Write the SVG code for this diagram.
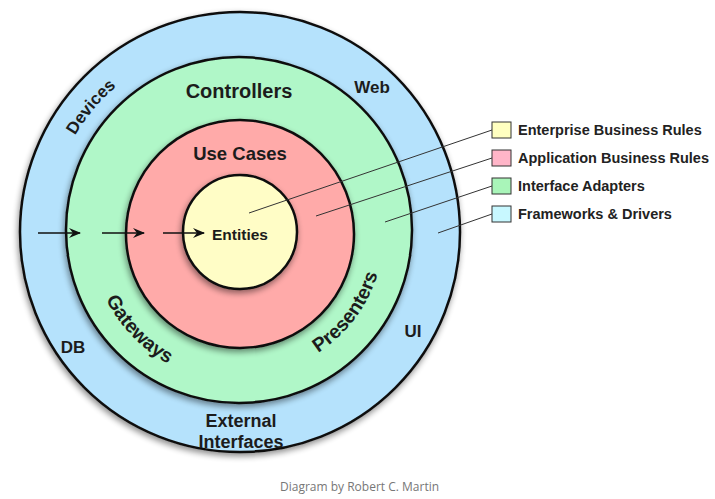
<svg xmlns="http://www.w3.org/2000/svg" xmlns:xlink="http://www.w3.org/1999/xlink" width="715" height="499" viewBox="0 0 715 499">
<style>
.ring{stroke:#111;stroke-width:2.5}
.lbl{font-family:"Liberation Sans",Arial,sans-serif;font-weight:bold;fill:#1c1c1c}
.leg{font-family:"Liberation Sans",Arial,sans-serif;font-weight:bold;font-size:14.5px;fill:#222}
.box{stroke:#333;stroke-width:1}
.lead{stroke:#333;stroke-width:1;fill:none}
.arr{stroke:#111;stroke-width:1.6;fill:none}
.cap{font-family:"Open Sans","Noto Sans",sans-serif;font-size:12px;fill:#777}
</style>
<defs>
<filter id="sh" x="-20%" y="-20%" width="140%" height="140%">
<feGaussianBlur in="SourceAlpha" stdDeviation="3"/>
<feOffset dx="-1" dy="3" result="b"/>
<feComponentTransfer><feFuncA type="linear" slope="0.45"/></feComponentTransfer>
<feMerge><feMergeNode/><feMergeNode in="SourceGraphic"/></feMerge>
</filter>
<marker id="ah" viewBox="0 0 12 10" refX="11" refY="5" markerWidth="12" markerHeight="10" markerUnits="userSpaceOnUse" orient="auto">
<path d="M0,0 L12,5 L0,10 L4,5 Z" fill="#111"/>
</marker>
<path id="pDev" d="M49,232 A191,191 0 0 1 206.8,43.9"/>
<path id="pGate" d="M90.4,242.5 A150,150 0 0 0 224.3,381.2"/>
<path id="pPres" d="M265,373.8 A144,144 0 0 0 383.2,216.9"/>
</defs>
<rect width="715" height="499" fill="#fff"/>
<g id="frameworks-drivers">
<circle class="ring" cx="240" cy="232" r="220" fill="#b5e2fc" filter="url(#sh)"/>
<text class="lbl" font-size="17"><textPath xlink:href="#pDev" href="#pDev" startOffset="50%" text-anchor="middle">Devices</textPath></text>
<text class="lbl" x="372" y="93" font-size="17" text-anchor="middle">Web</text>
<text class="lbl" x="413" y="337" font-size="17" text-anchor="middle">UI</text>
<text class="lbl" x="73" y="353" font-size="17" text-anchor="middle">DB</text>
<text class="lbl" x="241" y="427" font-size="18" text-anchor="middle">External</text>
<text class="lbl" x="241" y="448" font-size="18" text-anchor="middle">Interfaces</text>
</g>
<g id="interface-adapters">
<circle class="ring" cx="239" cy="230" r="173" fill="#b0f7c8" filter="url(#sh)"/>
<text class="lbl" x="239" y="98" font-size="20" text-anchor="middle">Controllers</text>
<text class="lbl" font-size="19.5"><textPath xlink:href="#pGate" href="#pGate" startOffset="50%" text-anchor="middle">Gateways</textPath></text>
<text class="lbl" font-size="19.5"><textPath xlink:href="#pPres" href="#pPres" startOffset="50%" text-anchor="middle">Presenters</textPath></text>
</g>
<g id="application-business-rules">
<circle class="ring" cx="240" cy="234" r="114" fill="#ffaaa9" filter="url(#sh)"/>
<text class="lbl" x="240" y="160" font-size="18.5" text-anchor="middle">Use Cases</text>
</g>
<g id="enterprise-business-rules">
<circle class="ring" cx="240" cy="232" r="57" fill="#fffdc6" filter="url(#sh)"/>
<text class="lbl" x="212" y="240" font-size="15.5">Entities</text>
</g>
<g id="connectors">
<line class="arr" x1="38" y1="233" x2="80" y2="233" marker-end="url(#ah)"/>
<line class="arr" x1="102" y1="233" x2="144" y2="233" marker-end="url(#ah)"/>
<line class="arr" x1="163" y1="233" x2="204" y2="233" marker-end="url(#ah)"/>
<line class="lead" x1="492" y1="130" x2="249" y2="213"/>
<line class="lead" x1="492" y1="158" x2="316" y2="216"/>
<line class="lead" x1="492" y1="186" x2="385" y2="222"/>
<line class="lead" x1="492" y1="214" x2="438" y2="233"/>
</g>
<g id="legend-enterprise">
<rect class="box" x="492" y="122" width="19" height="16" fill="#ffffc0"/>
<text class="leg" x="518" y="135">Enterprise Business Rules</text>
</g>
<g id="legend-application">
<rect class="box" x="492" y="150" width="19" height="16" fill="#ffb5c8"/>
<text class="leg" x="518" y="163">Application Business Rules</text>
</g>
<g id="legend-adapters">
<rect class="box" x="492" y="178" width="19" height="16" fill="#a9f5b9"/>
<text class="leg" x="518" y="191">Interface Adapters</text>
</g>
<g id="legend-frameworks">
<rect class="box" x="492" y="206" width="19" height="16" fill="#c8f8ff"/>
<text class="leg" x="518" y="219">Frameworks &amp; Drivers</text>
</g>
<text class="cap" x="280" y="491">Diagram by Robert C. Martin</text>
</svg>
